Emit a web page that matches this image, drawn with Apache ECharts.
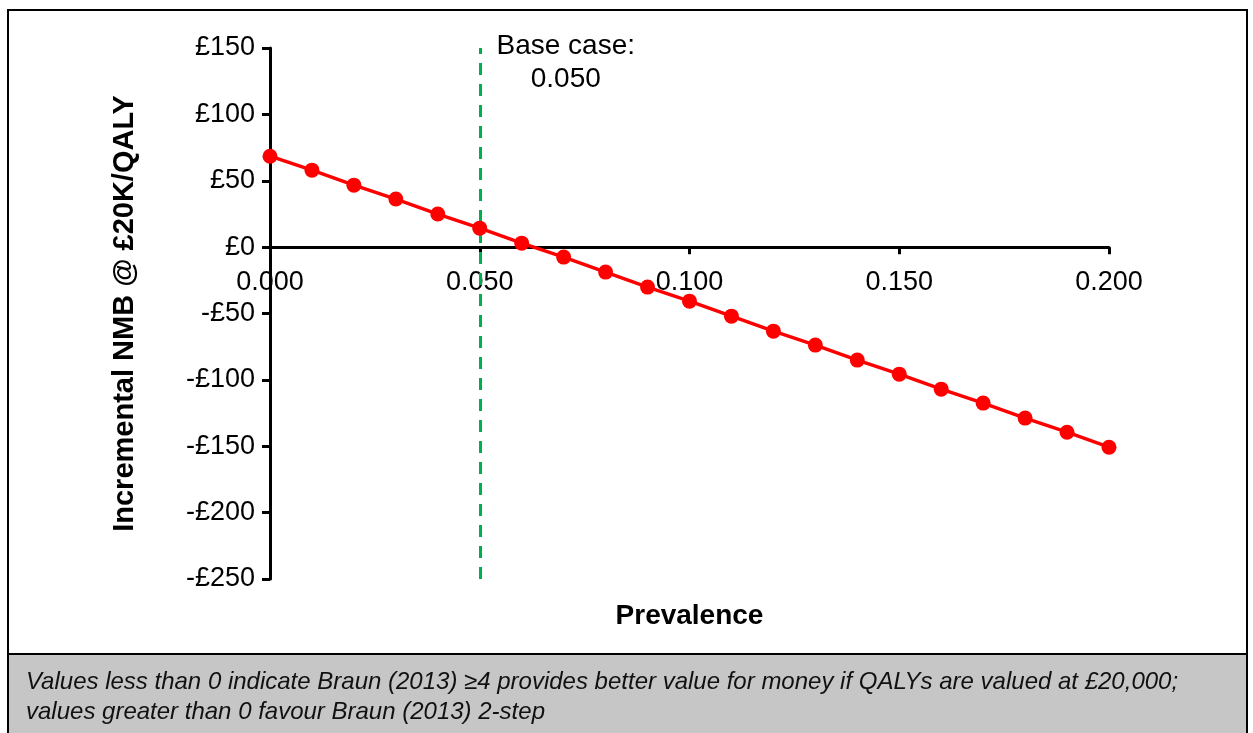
<!DOCTYPE html>
<html>
<head>
<meta charset="utf-8">
<script src="https://cdn.jsdelivr.net/npm/echarts@6/dist/echarts.min.js"></script>
<style>
html,body{margin:0;padding:0;background:#fff;}
#c{width:1253px;height:733px;}
</style>
</head>
<body>
<div id="c"></div>
<script>
const prevalence = [0, 0.01, 0.02, 0.03, 0.04, 0.05, 0.06, 0.07, 0.08, 0.09, 0.10, 0.11, 0.12, 0.13, 0.14, 0.15, 0.16, 0.17, 0.18, 0.19, 0.20];
const nmb = [68.5, 58, 46.7, 36.2, 24.9, 14.3, 3, -7.5, -18.8, -30.1, -40.7, -52, -63.3, -73.8, -85.1, -95.7, -107, -117.5, -128.8, -139.4, -150.7];
const baseCase = 0.05;
const baseCaseLabel = 'Base case:\n0.050';
const yTitle = 'Incremental NMB @ £20K/QALY';
const xTitle = 'Prevalence';
const footnote = 'Values less than 0 indicate Braun (2013) ≥4 provides better value for money if QALYs are valued at £20,000;\nvalues greater than 0 favour Braun (2013) 2-step';

const FONT = '"Liberation Sans", Arial, sans-serif';
const chart = echarts.init(document.getElementById('c'), null, {renderer: 'canvas'});

const option = {
  animation: false,
  textStyle: {fontFamily: FONT},
  grid: {left: 270, right: 144, top: 48, bottom: 154, containLabel: false},
  xAxis: {
    type: 'value', min: 0, max: 0.2, interval: 0.05, position: 'bottom', offset: 0,
    axisLine: {onZero: false, lineStyle: {color: '#000', width: 3}},
    axisTick: {show: true, inside: false, length: 7, lineStyle: {color: '#000', width: 3}},
    axisLabel: {fontSize: 27, color: '#000', fontFamily: FONT, margin: 22,
      formatter: v => v.toFixed(3)},
    splitLine: {show: false}
  },
  yAxis: {
    type: 'value', min: -250, max: 150, interval: 50,
    name: yTitle, nameLocation: 'middle', nameGap: 131, nameRotate: 90,
    nameTextStyle: {fontSize: 29, fontWeight: 'bold', color: '#000', fontFamily: FONT},
    axisLine: {lineStyle: {color: '#000', width: 3}},
    axisTick: {show: true, inside: false, length: 8, lineStyle: {color: '#000', width: 3}},
    axisLabel: {fontSize: 27, color: '#000', fontFamily: FONT, margin: 15,
      formatter: v => (v < 0 ? '-£' + Math.abs(v) : '£' + v)},
    splitLine: {show: false}
  },
  series: [{
    type: 'line',
    data: prevalence.map((p, i) => [p, nmb[i]]),
    symbol: 'circle', symbolSize: 15,
    lineStyle: {color: '#ff0000', width: 3.5},
    itemStyle: {color: '#ff0000'},
    z: 5,
    markLine: {
      silent: true, symbol: 'none',
      label: {show: false},
      lineStyle: {color: '#00b050', width: 3, type: [12, 9]},
      data: [{xAxis: baseCase}]
    }
  }]
};
chart.setOption(option);

const zeroPx = chart.convertToPixel({yAxisIndex: 0}, 0);
const bottomPx = chart.convertToPixel({yAxisIndex: 0}, -250);
const bxPx = chart.convertToPixel({xAxisIndex: 0}, baseCase);
const leftPx = chart.convertToPixel({xAxisIndex: 0}, 0);
const rightPx = chart.convertToPixel({xAxisIndex: 0}, 0.2);

chart.setOption({
  xAxis: {offset: zeroPx - bottomPx},
  graphic: [
    {type: 'rect', shape: {x: 8, y: 654, width: 1239, height: 90}, style: {fill: '#c6c6c6', stroke: null}, z: 0},
    {type: 'line', shape: {x1: 8, y1: 654, x2: 1247, y2: 654}, style: {stroke: '#000', lineWidth: 2}, z: 1},
    {type: 'rect', shape: {x: 8, y: 10, width: 1239, height: 740}, style: {fill: null, stroke: '#000', lineWidth: 2}, z: 1},
    {type: 'text', x: bxPx + 86, y: 30, style: {text: baseCaseLabel, fontSize: 28, fontFamily: FONT, fill: '#000', textAlign: 'center', lineHeight: 33}, z: 10},
    {type: 'text', x: (leftPx + rightPx) / 2, y: 616, style: {text: xTitle, fontSize: 28, fontWeight: 'bold', fontFamily: FONT, fill: '#000', textAlign: 'center', textVerticalAlign: 'middle'}, z: 10},
    {type: 'text', x: 26, y: 667, style: {text: footnote, fontSize: 24, fontStyle: 'italic', fontFamily: FONT, fill: '#111', lineHeight: 30}, z: 10}
  ]
});
</script>
</body>
</html>
